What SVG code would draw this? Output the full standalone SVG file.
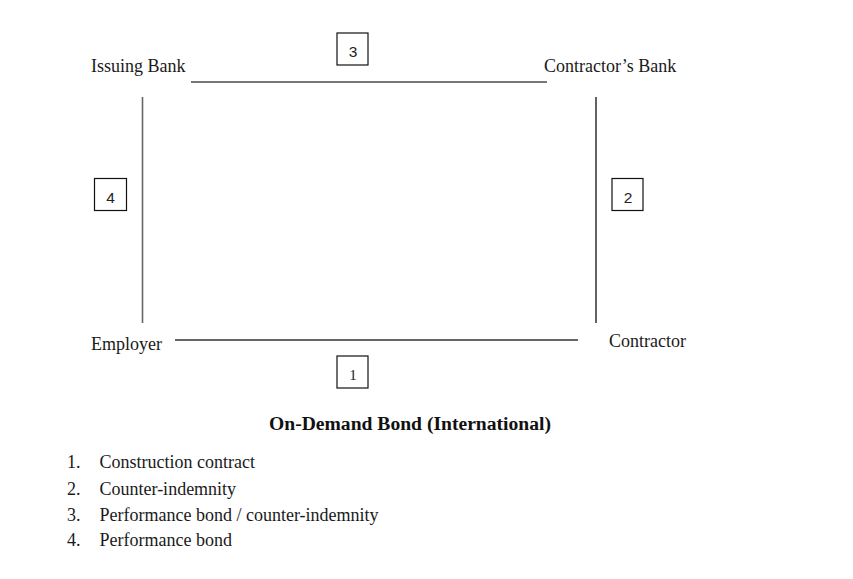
<svg xmlns="http://www.w3.org/2000/svg" width="853" height="579" viewBox="0 0 853 579">
<style>
.lbl{font-family:"Liberation Serif","Times New Roman",serif;font-size:18px;fill:#1a1a1a}
.num{font-family:"Liberation Sans",Arial,sans-serif;font-size:15.5px;fill:#222;text-anchor:middle}
.box{fill:#fff;stroke:#111;stroke-width:1.2}
.ttl{font-family:"Liberation Serif","Times New Roman",serif;font-size:19.6px;font-weight:bold;fill:#111;text-anchor:middle}
</style>
<rect width="853" height="579" fill="#fff"/>
<g id="connectors">
<line x1="191" y1="82" x2="547" y2="82" stroke="#777" stroke-width="2"/>
<line x1="142.5" y1="97" x2="142.5" y2="323" stroke="#666" stroke-width="1.6"/>
<line x1="596" y1="97" x2="596" y2="323" stroke="#222" stroke-width="1.4"/>
<line x1="175" y1="340" x2="578" y2="340" stroke="#333" stroke-width="1.6"/>
</g>
<g id="issuing-bank"><text class="lbl" x="91" y="72">Issuing Bank</text></g>
<g id="contractors-bank"><text class="lbl" x="544" y="72">Contractor’s Bank</text></g>
<g id="employer"><text class="lbl" x="91" y="350">Employer</text></g>
<g id="contractor"><text class="lbl" x="609" y="347">Contractor</text></g>
<g id="box3"><rect class="box" x="337" y="33" width="31" height="32"/><text class="num" x="353" y="56.5">3</text></g>
<g id="box4"><rect class="box" x="94.5" y="178.5" width="32" height="32"/><text class="num" x="110.5" y="202.5">4</text></g>
<g id="box2"><rect class="box" x="612" y="178.5" width="31" height="32"/><text class="num" x="628" y="202.5">2</text></g>
<g id="box1"><rect class="box" x="337" y="356" width="31" height="32"/><text class="num" x="353" y="380" style="font-family:'Liberation Serif','Times New Roman',serif;font-size:15px">1</text></g>
<g id="title"><text class="ttl" x="410" y="429.5">On-Demand Bond (International)</text></g>
<g id="legend">
<text class="lbl" x="67" y="468">1.</text><text class="lbl" x="99.5" y="468">Construction contract</text>
<text class="lbl" x="67" y="494.5">2.</text><text class="lbl" x="99.5" y="494.5">Counter-indemnity</text>
<text class="lbl" x="67" y="520.5">3.</text><text class="lbl" x="99.5" y="520.5">Performance bond / counter-indemnity</text>
<text class="lbl" x="67" y="545.5">4.</text><text class="lbl" x="99.5" y="545.5">Performance bond</text>
</g>
</svg>
